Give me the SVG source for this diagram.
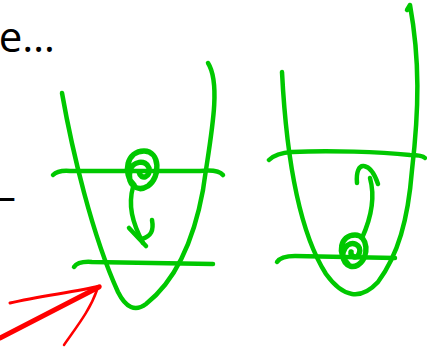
<svg xmlns="http://www.w3.org/2000/svg" width="427" height="350" viewBox="0 0 427 350">
<style>
.g{fill:none;stroke:#00c800;stroke-width:4.5;stroke-linecap:round;stroke-linejoin:round}
.s{stroke-width:5.5}
.r{fill:none;stroke:#ff0000;stroke-linecap:round;stroke-linejoin:round}
.t{font-family:"Open Sans","Liberation Sans",sans-serif;font-size:42px;fill:#000}
</style>
<rect width="427" height="350" fill="#fff"/>
<g id="text-top"><text class="t" x="55" y="52" text-anchor="end">e…</text></g>
<g id="text-dash"><text class="t" x="16" y="211" text-anchor="end">–</text></g>
<g id="left-bowl">
<path class="g" d="M62,93 C72,150 92,235 118,292 Q130,316 146,304 C170,285 192,250 203,190 C210,140 222,85 208,63"/>
<path class="g" d="M53,175 Q58,170 70,171 L200,171 Q218,169 223,175"/>
<path class="g" d="M74,267 Q78,261 92,262 L213,264"/>
</g>
<g id="left-ball">
<path class="g s" d="M134,185 C122,173 127,151 144,151 C160,151 161,177 148,186 C137,193 127,184 130,171 C132,161 146,159 149,168 C151,177 141,181 139,172"/>
<path class="g" d="M133,187 C128,205 132,222 143,243"/>
<path class="g" d="M129,228 L146,246"/>
<path class="g" d="M152,220 C154,231 151,236 142,239"/>
</g>
<g id="right-bowl">
<path class="g" d="M282,72 C286,150 298,230 326,274 Q352,310 378,282 C398,255 408,220 412,170 C419,110 420,60 410,5 L407,10"/>
<path class="g" d="M269,160 Q276,153 292,152 C330,150 380,152 410,155 Q422,155 425,158"/>
<path class="g" d="M277,262 Q281,256 295,256 L395,258"/>
</g>
<g id="right-ball">
<path class="g s" d="M348,264 C337,254 340,235 355,235 C368,235 370,257 358,265 C347,271 339,258 345,248 C351,239 363,245 359,254 C357,259 350,257 351,252"/>
<path class="g" d="M362,238 C372,216 375,196 370,178"/>
<path class="g" d="M357,183 C356,172 359,165 364,166 C370,167 375,175 378,184"/>
</g>
<g id="connectors">
<path class="r" stroke-width="3" d="M10,303 C40,296 75,292 100,286"/>
<path class="r" stroke-width="5" d="M0,338 C35,320 70,302 99,287"/>
<path class="r" stroke-width="2.5" d="M64,345 C78,325 90,310 97,290"/>
</g>
</svg>
